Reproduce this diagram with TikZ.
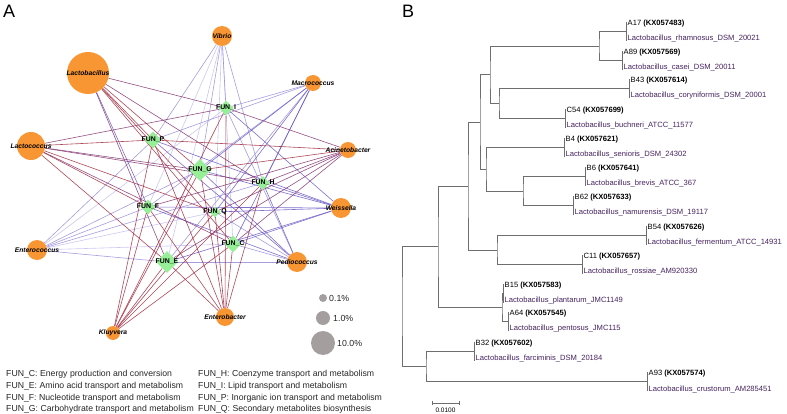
\documentclass[tikz,border=0pt]{standalone}
\usepackage{fontspec}
\setmainfont{Liberation Sans}
\usetikzlibrary{shapes.geometric,backgrounds}
\definecolor{taxorange}{RGB}{247,150,50}
\definecolor{fungreen}{RGB}{150,238,150}
\definecolor{ered}{RGB}{160,40,60}
\definecolor{eplum}{RGB}{130,50,110}
\definecolor{epurp}{RGB}{105,85,195}
\definecolor{elav}{RGB}{150,140,220}
\definecolor{epale}{RGB}{195,190,238}
\definecolor{sizegray}{RGB}{165,158,158}
\definecolor{treegray}{RGB}{110,110,110}
\definecolor{refpurple}{RGB}{70,35,95}

\begin{document}
\begin{tikzpicture}[x=1pt,y=-1pt,
  taxon/.style={circle,fill=taxorange,inner sep=0pt,minimum size=#1},
  taxlab/.style={font=\fontsize{6.7}{8}\selectfont\bfseries\itshape,inner sep=0pt},
  fun/.style={diamond,fill=fungreen,inner sep=0pt,minimum size=#1},
  funlab/.style={font=\fontsize{6.9}{8}\selectfont\bfseries,inner sep=0pt},
  edge/.style={line width=0.6pt,opacity=0.85},
  sizedot/.style={circle,fill=sizegray,inner sep=0pt,minimum size=#1},
  sizelab/.style={font=\fontsize{8.8}{10}\selectfont,anchor=west,inner sep=0pt,text=black!85},
  legtext/.style={font=\fontsize{8.7}{10}\selectfont,anchor=base west,inner sep=0pt,text=black!85},
  panellab/.style={font=\fontsize{18}{20}\selectfont,anchor=base west,inner sep=0pt},
  branch/.style={treegray,line width=0.9pt},
  isolab/.style={font=\fontsize{7.6}{8}\selectfont,anchor=west,inner sep=0pt},
  reflab/.style={font=\fontsize{7.6}{8}\selectfont,anchor=west,inner sep=0pt,text=refpurple}]
  \useasboundingbox (0,0) rectangle (787,414);

  % panel A: network
  \node[panellab] (pa) at (3,18) {A};
  \foreach \nm/\x/\y/\d in {lacb/88/73/42,lacc/31/146/28,vibr/222/36/20,macr/313/83/16,
      acin/348/150/16,weis/341/208/20,pedi/297/262/20,entb/225/317/18,kluy/113/333/14,ente/37/250/20}
    \node[taxon=\d pt] (\nm) at (\x,\y) {};
  \foreach \nm/\x/\y/\d in {fi/226/108/15,fp/153/140/17,fg/200/170/22,fh/263/183/14,
      ff/148/207/15,fq/215/212/11,fc/233/244/17,fe/167/262/22}
    \node[fun=\d pt] (\nm) at (\x,\y) {};

  \begin{scope}[on background layer]
    \foreach \t/\f in {vibr/ff,vibr/fq,vibr/fc,vibr/fe,ente/fi,ente/fq,ente/fc}
      \draw[edge,epale] (\t) -- (\f);
    \foreach \t/\f in {vibr/fi,vibr/fp,vibr/fg,vibr/fh,macr/fi,macr/fp,macr/ff,macr/fe,
        pedi/fi,pedi/fq,pedi/fc,pedi/fe,ente/fp,ente/fg,ente/ff,ente/fe,ente/fh}
      \draw[edge,elav] (\t) -- (\f);
    \foreach \t/\f in {macr/fc,macr/fq,macr/fh,macr/fg,pedi/fh,pedi/fg,pedi/fp,pedi/ff,lacb/ff}
      \draw[edge,epurp] (\t) -- (\f);
    \foreach \f in {fi,fp,fg,fh,ff,fq,fc,fe}
      \draw[edge,epurp] (weis) -- (\f);
    \foreach \t/\f in {lacb/fi,lacb/fh,lacb/fe,lacc/fg,lacc/fh,lacc/fc,lacc/fi,
        acin/fi,acin/ff,acin/fh,acin/fq,acin/fc,acin/fe}
      \draw[edge,eplum] (\t) -- (\f);
    \foreach \t/\f in {lacb/fp,lacb/fg,lacb/fq,lacb/fc,lacc/fp,lacc/ff,lacc/fq,lacc/fe,acin/fp,acin/fg}
      \draw[edge,ered] (\t) -- (\f);
    \foreach \t in {kluy,entb}
      \foreach \f in {fi,fp,fg,fh,ff,fq,fc,fe}
        \draw[edge,ered] (\t) -- (\f);
  \end{scope}

  \foreach \nm/\txt in {lacb/Lactobacillus,lacc/Lactococcus,vibr/Vibrio,macr/Macrococcus,
      acin/Acinetobacter,weis/Weissella,pedi/Pediococcus,entb/Enterobacter,kluy/Kluyvera,ente/Enterococcus}
    \node[taxlab] (\nm-t) at (\nm) {\txt};
  \foreach \nm/\txt in {fi/I,fp/P,fg/G,fh/H,ff/F,fq/Q,fc/C,fe/E}
    \node[funlab] (\nm-t) at (\nm) {FUN\_\txt};

  % size key
  \node[sizedot=8pt]  (s1) at (323,298) {};
  \node[sizedot=14pt] (s2) at (323,318) {};
  \node[sizedot=24pt] (s3) at (323,343) {};
  \node[sizelab] (s1-t) at (329,298) {0.1\%};
  \node[sizelab] (s2-t) at (333,318) {1.0\%};
  \node[sizelab] (s3-t) at (337,343) {10.0\%};

  % COG legend
  \foreach \yy/\txt in {376/{FUN\_C: Energy production and conversion},
      388/{FUN\_E: Amino acid transport and metabolism},
      400/{FUN\_F: Nucleotide transport and metabolism},
      411.5/{FUN\_G: Carbohydrate transport and metabolism}}
    \node[legtext] at (6,\yy) {\txt};
  \foreach \yy/\txt in {376/{FUN\_H: Coenzyme transport and metabolism},
      388/{FUN\_I: Lipid transport and metabolism},
      400/{FUN\_P: Inorganic ion transport and metabolism},
      411.5/{FUN\_Q: Secondary metabolites biosynthesis}}
    \node[legtext] at (198,\yy) {\txt};

  % panel B: tree
  \node[panellab] (pb) at (402,18) {B};
  \foreach \nm/\x/\y/\iso/\acc/\spc in {
      a17/626/24/A17/KX057483/rhamnosus\_DSM\_20021,
      a89/622/53/A89/KX057569/casei\_DSM\_20011,
      b43/629/81/B43/KX057614/coryniformis\_DSM\_20001,
      c54/565/111/C54/KX057699/buchneri\_ATCC\_11577,
      b4/564/140/B4/KX057621/senioris\_DSM\_24302,
      b6/585/169/B6/KX057641/brevis\_ATCC\_367,
      b62/573/198/B62/KX057633/namurensis\_DSM\_19117,
      b54/646/228/B54/KX057626/fermentum\_ATCC\_14931,
      c11/582/257/C11/KX057657/rossiae\_AM920330,
      b15/503/286/B15/KX057583/plantarum\_JMC1149,
      a64/508/314/A64/KX057545/pentosus\_JMC115,
      b32/474/344/B32/KX057602/farciminis\_DSM\_20184,
      a93/647/374/A93/KX057574/crustorum\_AM285451}{
    \coordinate (\nm) at (\x,\y+7.5);
    \draw[branch] (\x,\y-2) -- (\x,\y+17);
    \node[isolab] (\nm-i) at (\x+1.5,\y) {\iso\ \textbf{(\acc)}};
    \node[reflab] (\nm-r) at (\x+1.5,\y+15) {Lactobacillus\_\spc};
  }
  \coordinate (n1) at (599,46);
  \coordinate (n2) at (499,103.5);
  \coordinate (n3) at (490,74.75);
  \coordinate (n4) at (523,191);
  \coordinate (n5) at (486,169.25);
  \coordinate (n6) at (480,122);
  \coordinate (n7) at (497,250);
  \coordinate (n8) at (468,186);
  \coordinate (n9) at (502,307.5);
  \coordinate (n10) at (438,246.75);
  \coordinate (n11) at (426,366.5);
  \coordinate (rt) at (402,306.6);
  \draw[branch] (a17) -| (n1) |- (a89);
  \draw[branch] (b43) -| (n2) |- (c54);
  \draw[branch] (n1) -| (n3) |- (n2);
  \draw[branch] (b6) -| (n4) |- (b62);
  \draw[branch] (b4) -| (n5) |- (n4);
  \draw[branch] (n3) -| (n6) |- (n5);
  \draw[branch] (b54) -| (n7) |- (c11);
  \draw[branch] (n6) -| (n8) |- (n7);
  \draw[branch] (b15) -| (n9) |- (a64);
  \draw[branch] (n8) -| (n10) |- (n9);
  \draw[branch] (b32) -| (n11) |- (a93);
  \draw[branch] (n10) -| (rt) |- (n11);

  % scale bar
  \coordinate (sb1) at (432,403); \coordinate (sb2) at (459,403);
  \draw[branch] (sb1) -- (sb2);
  \draw[branch] ([yshift=2.5pt]sb1) -- ([yshift=-1.5pt]sb1);
  \draw[branch] ([yshift=2.5pt]sb2) -- ([yshift=-1.5pt]sb2);
  \node[font=\fontsize{6.5}{7}\selectfont,inner sep=0pt] (sb-t) at (445.5,410.5) {0.0100};
\end{tikzpicture}
\end{document}
